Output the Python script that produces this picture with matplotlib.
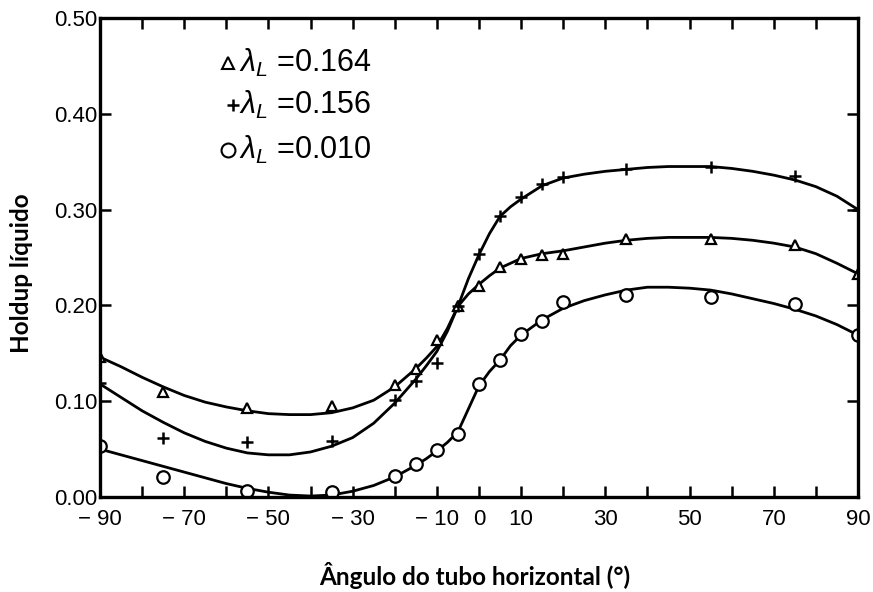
import numpy as np
import matplotlib
matplotlib.use("Agg")
import matplotlib.pyplot as plt

plt.rcParams['font.family'] = ['Liberation Sans', 'DejaVu Sans']
plt.rcParams['mathtext.fontset'] = 'custom'
plt.rcParams['mathtext.rm'] = 'Liberation Sans'
plt.rcParams['mathtext.it'] = 'Liberation Sans:italic'

# measured points (angle in degrees, liquid holdup)
pt_angle = [-90, -75, -55, -35, -20, -15, -10, -5, 0, 5, 10, 15, 20, 35, 55, 75, 90]
holdup_164 = [0.146, 0.110, 0.093, 0.095, 0.117, 0.134, 0.164, 0.199, 0.220, 0.240,
              0.248, 0.253, 0.254, 0.269, 0.269, 0.263, 0.233]
holdup_156 = [0.119, 0.062, 0.057, 0.058, 0.101, 0.121, 0.140, 0.199, 0.254, 0.293,
              0.313, 0.327, 0.334, 0.342, 0.345, 0.335, 0.300]
holdup_010 = [0.053, 0.021, 0.006, 0.005, 0.022, 0.034, 0.049, 0.066, 0.118, 0.143,
              0.170, 0.184, 0.204, 0.211, 0.209, 0.201, 0.169]

# fitted curves
fit_angle = [-90, -85, -80, -75, -70, -65, -60, -55, -50, -45, -40, -35, -30, -25, -20,
             -15, -12.5, -10, -7.5, -5, -2.5, 0, 2.5, 5, 7.5, 10, 15, 20, 25, 30, 35,
             40, 45, 50, 55, 60, 65, 70, 75, 80, 85, 90]
fit_164 = [0.146, 0.136, 0.125, 0.115, 0.106, 0.099, 0.094, 0.090, 0.087, 0.086, 0.086,
           0.088, 0.093, 0.101, 0.115, 0.134, 0.145, 0.157, 0.176, 0.199, 0.212, 0.222,
           0.231, 0.239, 0.244, 0.249, 0.254, 0.257, 0.261, 0.265, 0.268, 0.270, 0.271,
           0.271, 0.271, 0.270, 0.268, 0.265, 0.261, 0.254, 0.244, 0.233]
fit_156 = [0.118, 0.104, 0.090, 0.078, 0.067, 0.058, 0.051, 0.046, 0.044, 0.044, 0.047,
           0.053, 0.062, 0.077, 0.098, 0.123, 0.137, 0.152, 0.173, 0.199, 0.228, 0.253,
           0.275, 0.293, 0.303, 0.311, 0.325, 0.333, 0.337, 0.340, 0.342, 0.344, 0.345,
           0.345, 0.345, 0.343, 0.340, 0.336, 0.331, 0.324, 0.314, 0.300]
fit_010 = [0.050, 0.044, 0.038, 0.032, 0.026, 0.020, 0.014, 0.009, 0.005, 0.002, 0.001,
           0.002, 0.006, 0.012, 0.021, 0.033, 0.040, 0.048, 0.057, 0.068, 0.092, 0.116,
           0.131, 0.143, 0.158, 0.169, 0.185, 0.197, 0.205, 0.211, 0.216, 0.219, 0.219,
           0.218, 0.216, 0.212, 0.207, 0.202, 0.196, 0.189, 0.180, 0.169]

legend_texts = [r'$\lambda_L$ =0.164', r'$\lambda_L$ =0.156', r'$\lambda_L$ =0.010']

x_ticks = list(range(-90, 91, 10))
x_labels = ['\u2212 90', '', '\u2212 70', '', '\u2212 50', '', '\u2212 30', '', '\u2212 10',
            '0', '10', '', '30', '', '50', '', '70', '', '90']
y_ticks = [0.0, 0.1, 0.2, 0.3, 0.4, 0.5]
y_labels = ['0.00', '0.10', '0.20', '0.30', '0.40', '0.50']

fig = plt.figure(figsize=(8.73, 5.92), dpi=100)
ax = fig.add_axes([0.1145, 0.1605, 0.8683, 0.809])

lw = 2.0
ax.plot(fit_angle, fit_164, color='black', lw=lw)
ax.plot(fit_angle, fit_156, color='black', lw=lw)
ax.plot(fit_angle, fit_010, color='black', lw=lw)

ax.plot(pt_angle, holdup_164, ls='none', marker='^', ms=7, mfc='white', mec='black', mew=1.6)
ax.plot(pt_angle, holdup_156, ls='none', marker='+', ms=9, mec='black', mew=1.8)
ax.plot(pt_angle, holdup_010, ls='none', marker='o', ms=9, mfc='white', mec='black', mew=1.6)

# legend block drawn by hand
ax.plot(0.169, 0.906, transform=ax.transAxes, marker='^', ms=8, mfc='white', mec='black', mew=1.5)
ax.plot(0.175, 0.818, transform=ax.transAxes, marker='+', ms=9, mec='black', mew=1.8)
ax.plot(0.169, 0.724, transform=ax.transAxes, marker='o', ms=10, mfc='white', mec='black', mew=1.5)
for ty, txt in zip([0.906, 0.818, 0.724], legend_texts):
    ax.text(0.184, ty, txt, transform=ax.transAxes, fontsize=22, va='center', ha='left')

ax.set_xlim(-90, 90)
ax.set_ylim(0, 0.5)
ax.set_xticks(x_ticks)
ax.set_xticklabels(x_labels, fontsize=16)
ax.set_yticks(y_ticks)
ax.set_yticklabels(y_labels, fontsize=16)
ax.tick_params(direction='in', length=8, width=1.8, top=True, right=True)
ax.tick_params(axis='x', pad=9)
ax.tick_params(axis='y', pad=2)
for s in ax.spines.values():
    s.set_linewidth(2.4)

fig.text(0.544, 0.028, 'Ângulo do tubo horizontal (°)', fontsize=17.5, fontweight='bold',
         family='Lato', ha='center', va='center')
fig.text(0.025, 0.538, 'Holdup líquido', fontsize=17.5, fontweight='bold', family='Lato',
         rotation=90, ha='center', va='center')

fig.savefig('out.png', dpi=100)
